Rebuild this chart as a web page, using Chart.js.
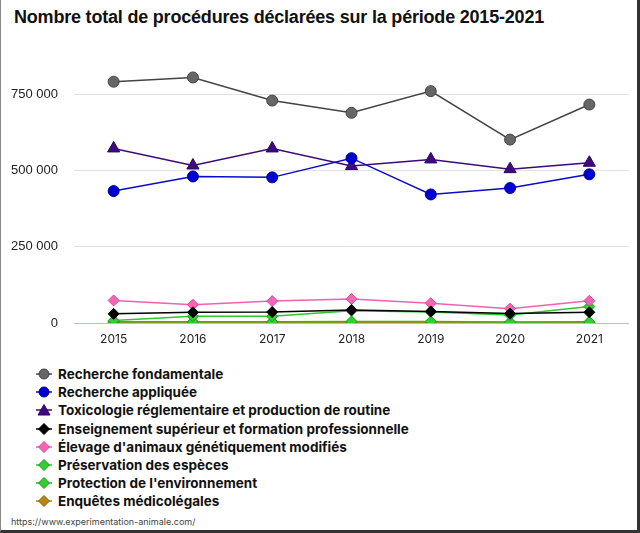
<!DOCTYPE html>
<html lang="fr">
<head>
<meta charset="utf-8">
<script src="https://cdn.jsdelivr.net/npm/chart.js@4/dist/chart.umd.min.js"></script>
<style>
  html, body { margin: 0; padding: 0; background: #fff; }
  #frame {
    position: relative; width: 640px; height: 533px; box-sizing: border-box;
    border-left: 1px solid #888; border-right: 3px solid #333; border-bottom: 3px solid #333;
    overflow: hidden;
  }
  #title {
    position: absolute; left: 13px; top: 7px;
    font: bold 18px "Liberation Sans", Arial, sans-serif; color: #111; letter-spacing: -0.2px;
  }
  #box { position: absolute; left: -1px; top: 25px; width: 640px; height: 325px; }
  #legend { position: absolute; left: 34px; top: 365px; }
  .leg-item { display: flex; align-items: center; height: 18.2px; font: bold 13.5px Inter, "Noto Sans", sans-serif; color: #111; }
  .leg-item svg { margin-right: 5px; }
  #src { position: absolute; left: 10px; top: 516px; font: 9px Inter, "Noto Sans", sans-serif; color: #444; }
</style>
</head>
<body>
<div id="frame">
  <div id="title">Nombre total de procédures déclarées sur la période 2015-2021</div>
  <div id="box"><canvas id="chart"></canvas></div>
  <div id="legend"></div>
  <div id="src">https://www.experimentation-animale.com/</div>
</div>
<script>
// années
const YEARS = ['2015', '2016', '2017', '2018', '2019', '2020', '2021'];

// séries
const FONDAMENTALE   = [792000, 806000, 730000, 690000, 761000, 602000, 717000];
const APPLIQUEE      = [433000, 481000, 478000, 541000, 422000, 443000, 488000];
const TOXICOLOGIE    = [573000, 517000, 573000, 515000, 537000, 505000, 526000];
const ENSEIGNEMENT   = [30000, 35000, 36000, 43000, 38000, 31000, 35000];
const ELEVAGE        = [74000, 60000, 72000, 79000, 65000, 47000, 73000];
const PRESERVATION   = [8000, 22000, 22000, 40000, 36000, 26000, 54000];
const PROTECTION     = [4000, 4000, 4000, 5000, 5000, 3000, 4000];
const MEDICOLEGALES  = [1500, 1500, 1500, 1500, 1500, 1500, 1500];

const Y_TICKS = [0, 250000, 500000, 750000];

const SERIES = [
  { label: 'Recherche fondamentale', data: FONDAMENTALE, line: '#444', fill: '#666', edge: '#444', style: 'circle', r: 5.5 },
  { label: 'Recherche appliquée', data: APPLIQUEE, line: '#0a0ac8', fill: '#0000d0', edge: '#00009a', style: 'circle', r: 5.5 },
  { label: 'Toxicologie réglementaire et production de routine', data: TOXICOLOGIE, line: '#3c0a78', fill: '#3f0a80', edge: '#2a0560', style: 'triangle', r: 7 },
  { label: 'Enseignement supérieur et formation professionnelle', data: ENSEIGNEMENT, line: '#000', fill: '#000', edge: '#000', style: 'rectRot', r: 5.5 },
  { label: 'Élevage d\'animaux génétiquement modifiés', data: ELEVAGE, line: '#f062b0', fill: '#f565b5', edge: '#d8489a', style: 'rectRot', r: 5.5 },
  { label: 'Préservation des espèces', data: PRESERVATION, line: '#2fc52f', fill: '#33cc33', edge: '#1f9a1f', style: 'rectRot', r: 5.5 },
  { label: 'Protection de l\'environnement', data: PROTECTION, line: '#2fb82f', fill: '#33cc33', edge: '#1f9a1f', style: 'rectRot', r: 5.5 },
  { label: 'Enquêtes médicolégales', data: MEDICOLEGALES, line: '#b8860b', fill: '#b8860b', edge: '#8a6408', style: 'rectRot', r: 5.5 },
];

const fmt = v => v === 0 ? '0' : v.toLocaleString('fr-FR').replace(/\s/g, ' ');

new Chart(document.getElementById('chart'), {
  type: 'line',
  data: {
    labels: YEARS,
    datasets: SERIES.map(s => ({
      label: s.label, data: s.data,
      borderColor: s.line, borderWidth: 1.5,
      pointStyle: s.style, pointRadius: s.r, pointHoverRadius: s.r,
      pointBackgroundColor: s.fill, pointBorderColor: s.edge, pointBorderWidth: 1,
      tension: 0, fill: false,
    })),
  },
  options: {
    responsive: true, maintainAspectRatio: false, animation: false,
    layout: { padding: { top: 8, right: 11, left: 0, bottom: 0 } },
    plugins: { legend: { display: false }, tooltip: { enabled: false } },
    scales: {
      x: {
        offset: true,
        grid: { display: false, drawTicks: false },
        border: { display: false },
        ticks: { padding: 9, color: '#222', font: { family: 'Inter', size: 12 } },
        afterFit: s => { s.height = 27; },
      },
      y: {
        min: 0, max: 900000,
        afterBuildTicks: s => { s.ticks = Y_TICKS.map(v => ({ value: v })); },
        grid: { drawTicks: false, lineWidth: 1, color: c => c.tick && c.tick.value === 0 ? '#b4c2cf' : '#e2e2e2' },
        border: { display: false },
        ticks: { padding: 16, color: '#222', font: { family: 'Liberation Sans', size: 13 }, callback: v => fmt(v) },
        afterFit: s => { s.width = 74; },
      },
    },
  },
});

// légende
function markerSvg(s) {
  let m;
  if (s.style === 'circle') m = `<circle cx="9" cy="7" r="5" fill="${s.fill}" stroke="${s.edge}"/>`;
  else if (s.style === 'triangle') m = `<polygon points="9,1.5 15,12 3,12" fill="${s.fill}" stroke="${s.edge}"/>`;
  else m = `<polygon points="9,1.5 14.5,7 9,12.5 3.5,7" fill="${s.fill}" stroke="${s.edge}"/>`;
  return `<svg width="18" height="14"><line x1="1" y1="7" x2="17" y2="7" stroke="${s.line}" stroke-width="1.5"/>${m}</svg>`;
}
document.getElementById('legend').innerHTML = SERIES.map(s =>
  `<div class="leg-item">${markerSvg(s)}${s.label}</div>`
).join('');
</script>
</body>
</html>
